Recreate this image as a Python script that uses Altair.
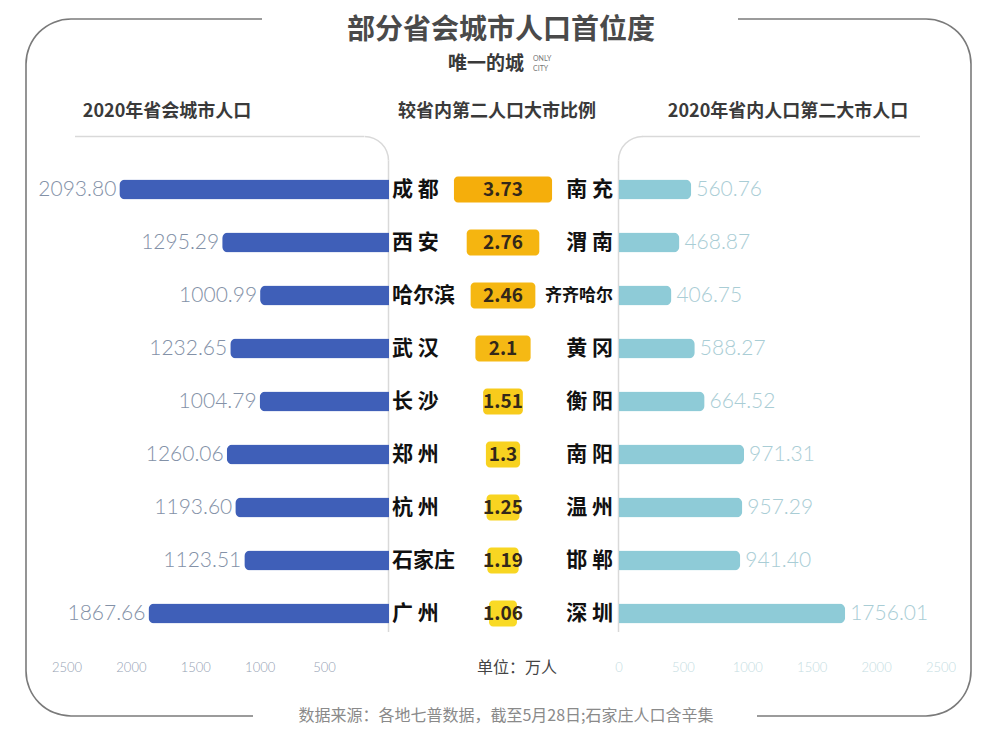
import altair as alt
import pandas as pd

# ---------------- data ----------------
cap_cities = ["成都", "西安", "哈尔滨", "武汉", "长沙", "郑州", "杭州", "石家庄", "广州"]
cap_pop = [2093.80, 1295.29, 1000.99, 1232.65, 1004.79, 1260.06, 1193.60, 1123.51, 1867.66]
ratios = [3.73, 2.76, 2.46, 2.1, 1.51, 1.3, 1.25, 1.19, 1.06]
second_cities = ["南充", "渭南", "齐齐哈尔", "黄冈", "衡阳", "南阳", "温州", "邯郸", "深圳"]
second_pop = [560.76, 468.87, 406.75, 588.27, 664.52, 971.31, 957.29, 941.40, 1756.01]
left_ticks = [2500, 2000, 1500, 1000, 500]
right_ticks = [0, 500, 1000, 1500, 2000, 2500]

title_text = "部分省会城市人口首位度"
subtitle_text = "唯一的城"
head_left = "2020年省会城市人口"
head_mid = "较省内第二人口大市比例"
head_right = "2020年省内人口第二大市人口"
unit_text = "单位：万人"
source_text = "数据来源：各地七普数据，截至5月28日;石家庄人口含辛集"

df = pd.DataFrame({
    "cap": cap_cities,
    "cap_pop": cap_pop,
    "ratio": ratios,
    "second": second_cities,
    "second_pop": second_pop,
})

CJK = "Noto Sans CJK SC"
NUM = "Lato"
one = alt.Data(values=[{"a": 1}])

W, H = 984, 722

y_scale = alt.Scale(domain=cap_cities, range=[155, 632], paddingInner=0, paddingOuter=0)
Y = alt.Y("cap:N", sort=cap_cities, scale=y_scale, axis=None)

left_scale = alt.Scale(domain=[0, 2500], range=[381, 59], nice=False, zero=False)
right_scale = alt.Scale(domain=[0, 2500], range=[611, 933], nice=False, zero=False)
box_scale = alt.Scale(domain=[-1, 1], range=[468.7, 521.3], nice=False, zero=False)

base = alt.Chart(df)

# ---------------- decoration ----------------
def hrule(x1, x2, y, color, w):
    return alt.Chart(one).mark_rule(color=color, strokeWidth=w).encode(
        x=alt.value(x1), x2=alt.value(x2), y=alt.value(y))

def vrule(x, y1, y2, color, w):
    return alt.Chart(one).mark_rule(color=color, strokeWidth=w).encode(
        x=alt.value(x), y=alt.value(y1), y2=alt.value(y2))

def corner(cx, cy, r, t1, t2, color, w):
    return alt.Chart(one).mark_arc(
        radius=r + w / 2, radius2=r - w / 2, theta=t1, theta2=t2, color=color
    ).encode(x=alt.value(cx), y=alt.value(cy))

PI = 3.14159265
fc, fw, R = "#7A7A7A", 1.6, 45
L, Rt, T, B = 18, 963, 11, 708
frame = [
    hrule(L + R, 254, T, fc, fw), hrule(730, Rt - R, T, fc, fw),
    hrule(L + R, 245, B, fc, fw), hrule(749, Rt - R, B, fc, fw),
    vrule(L, T + R, B - R, fc, fw), vrule(Rt, T + R, B - R, fc, fw),
    corner(L + R, T + R, R, 1.5 * PI, 2 * PI, fc, fw),
    corner(Rt - R, T + R, R, 0, 0.5 * PI, fc, fw),
    corner(Rt - R, B - R, R, 0.5 * PI, PI, fc, fw),
    corner(L + R, B - R, R, PI, 1.5 * PI, fc, fw),
]

lc, lw = "#D9D9D9", 1.5
panels = [
    hrule(67, 356, 128.5, lc, lw), vrule(380.5, 152.5, 624, lc, lw),
    corner(356.5, 152.5, 24, 0, 0.5 * PI, lc, lw),
    hrule(634, 912, 128.5, lc, lw), vrule(610.5, 152.5, 624, lc, lw),
    corner(634.5, 152.5, 24, 1.5 * PI, 2 * PI, lc, lw),
]

# ---------------- texts ----------------
def txt(s, x, y, size, color, weight="normal", align="center", font=CJK):
    return alt.Chart(one).mark_text(
        text=s, fontSize=size, color=color, fontWeight=weight, align=align,
        baseline="middle", font=font
    ).encode(x=alt.value(x), y=alt.value(y))

title = txt(title_text, 493, 23, 28, "#4A4A4A", "bold")
subtitle = txt(subtitle_text, 478, 56, 19, "#3A3A3A", "bold")
only1 = txt("ONLY", 525, 51, 7, "#777777", align="left", font=NUM)
only2 = txt("CITY", 525, 61, 7, "#777777", align="left", font=NUM)
h_left = txt(head_left, 159, 104, 18, "#3A3A3A", "bold")
h_mid = txt(head_mid, 489, 104, 18, "#3A3A3A", "bold")
h_right = txt(head_right, 780, 104, 18, "#3A3A3A", "bold")
unit = txt(unit_text, 509, 660, 16, "#444444")
source = txt(source_text, 498, 708, 16, "#8A8A8A")

# ---------------- bars ----------------
left_bars = base.mark_bar(
    color="#3F5FB8", size=20, cornerRadiusTopLeft=6, cornerRadiusBottomLeft=6
).encode(x=alt.X("cap_pop:Q", scale=left_scale, axis=None), y=Y)

left_vals = base.mark_text(
    align="right", baseline="middle", dx=-3, fontSize=21, font=NUM,
    fontWeight=300, color="#8391A7"
).encode(x=alt.X("cap_pop:Q", scale=left_scale, axis=None), y=Y,
         text=alt.Text("cap_pop:Q", format=".2f"))

right_bars = base.mark_bar(
    color="#8ECBD7", size=20, cornerRadiusTopRight=6, cornerRadiusBottomRight=6
).encode(x=alt.X("second_pop:Q", scale=right_scale, axis=None), y=Y)

right_vals = base.mark_text(
    align="left", baseline="middle", dx=5, fontSize=21, font=NUM,
    fontWeight=300, color="#A9CDD5"
).encode(x=alt.X("second_pop:Q", scale=right_scale, axis=None), y=Y,
         text=alt.Text("second_pop:Q", format=".2f"))

boxes = base.transform_calculate(
    lo="-datum.ratio/2", hi="datum.ratio/2"
).mark_bar(size=26, cornerRadius=4).encode(
    x=alt.X("lo:Q", scale=box_scale, axis=None),
    x2="hi:Q",
    y=Y,
    color=alt.Color("ratio:Q", legend=None, scale=alt.Scale(
        domain=[1.0, 1.6, 2.1, 3.73],
        range=["#F9DC26", "#F6C81A", "#F5B914", "#F5AE0B"])),
)

ratio_text = base.mark_text(
    align="center", baseline="middle", fontSize=19, font=CJK, fontWeight="bold",
    color="#33281A"
).encode(x=alt.value(495), y=Y, text=alt.Text("ratio:N"))

cap_names = base.transform_calculate(
    lab="length(datum.cap)==2 ? substring(datum.cap,0,1)+' '+substring(datum.cap,1,2) : datum.cap"
).mark_text(
    align="left", baseline="middle", font=CJK, fontWeight="bold", fontSize=21,
    color="#111111"
).encode(x=alt.value(384), y=Y, text="lab:N")

sec_names = base.transform_calculate(
    lab="length(datum.second)==2 ? substring(datum.second,0,1)+' '+substring(datum.second,1,2) : datum.second"
).mark_text(
    align="right", baseline="middle", font=CJK, fontWeight="bold", color="#111111"
).encode(
    x=alt.value(605), y=Y, text="lab:N",
    size=alt.condition("length(datum.second)>3", alt.value(17), alt.value(21)),
)

lt = alt.Chart(pd.DataFrame({"v": left_ticks})).mark_text(
    fontSize=13, font=NUM, fontWeight=300, color="#95A1B3", baseline="middle"
).encode(x=alt.X("v:Q", scale=left_scale, axis=None), y=alt.value(660),
         text=alt.Text("v:Q", format="d"))

rt = alt.Chart(pd.DataFrame({"v": right_ticks})).mark_text(
    fontSize=13, font=NUM, fontWeight=300, color="#C4DCE1", baseline="middle"
).encode(x=alt.X("v:Q", scale=right_scale, axis=None), y=alt.value(660),
         text=alt.Text("v:Q", format="d"))

chart = alt.layer(
    *frame, *panels,
    left_bars, right_bars, boxes,
    left_vals, right_vals, ratio_text, cap_names, sec_names,
    lt, rt,
    title, subtitle, only1, only2, h_left, h_mid, h_right, unit, source,
).resolve_scale(
    x="independent", color="independent"
).properties(
    width=W, height=H, autosize="none", padding=0, background="white"
).configure_view(strokeWidth=0)

chart.save("out.html", embed_options={"renderer": "svg", "actions": False})
